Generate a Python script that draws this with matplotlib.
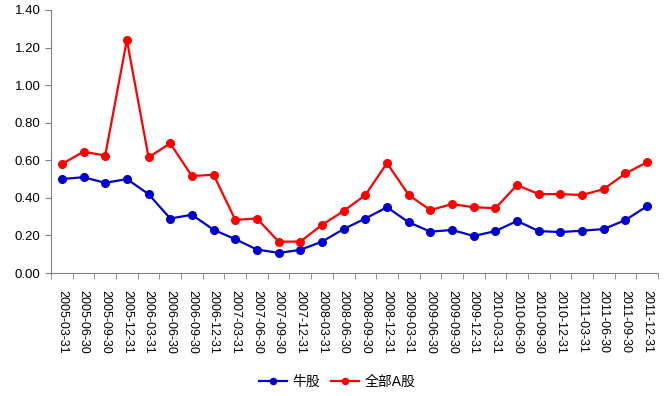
import numpy as np
import matplotlib
matplotlib.use("Agg")
from matplotlib import pyplot as plt
from matplotlib.ticker import MultipleLocator, FixedLocator

plt.rcParams['font.family'] = ['Liberation Sans', 'Noto Sans CJK SC', 'DejaVu Sans']

dates = ['2005-03-31', '2005-06-30', '2005-09-30', '2005-12-31',
         '2006-03-31', '2006-06-30', '2006-09-30', '2006-12-31',
         '2007-03-31', '2007-06-30', '2007-09-30', '2007-12-31',
         '2008-03-31', '2008-06-30', '2008-09-30', '2008-12-31',
         '2009-03-31', '2009-06-30', '2009-09-30', '2009-12-31',
         '2010-03-31', '2010-06-30', '2010-09-30', '2010-12-31',
         '2011-03-31', '2011-06-30', '2011-09-30', '2011-12-31']
niu = [0.50, 0.51, 0.48, 0.50, 0.42, 0.29, 0.31, 0.23,
       0.18, 0.125, 0.107, 0.123, 0.167, 0.234, 0.29, 0.35,
       0.27, 0.22, 0.229, 0.197, 0.223, 0.277, 0.223, 0.218,
       0.225, 0.234, 0.282, 0.356]
all_a = [0.58, 0.646, 0.625, 1.24, 0.616, 0.69, 0.516, 0.523,
         0.283, 0.29, 0.167, 0.167, 0.256, 0.33, 0.415, 0.585,
         0.415, 0.335, 0.367, 0.35, 0.345, 0.468, 0.42, 0.42,
         0.415, 0.447, 0.53, 0.59]

fig = plt.figure(figsize=(6.66, 3.96), dpi=100)
ax = fig.add_axes([51/666, 1-273/396, 607/666, 263/396])

x = np.arange(len(dates))
ax.plot(x, niu, color='#0000cc', marker='o', markersize=5.5, linewidth=1.6, label='牛股')
ax.plot(x, all_a, color='#ff0000', marker='o', markersize=5.5, linewidth=1.6, label='全部A股')

ax.set_xlim(-0.5, len(dates) - 0.5)
ax.set_ylim(0, 1.40)
ax.yaxis.set_major_locator(MultipleLocator(0.2))
ax.yaxis.set_major_formatter(matplotlib.ticker.FormatStrFormatter('%.2f'))

ax.set_xticks(x)
ax.set_xticklabels(dates, rotation=270, fontsize=9)
ax.tick_params(axis='x', which='major', length=0, pad=12)
ax.xaxis.set_minor_locator(FixedLocator(np.arange(-0.5, len(dates), 1)))
ax.tick_params(axis='x', which='minor', length=4, color='#808080')
ax.tick_params(axis='y', labelsize=9.5, length=4, color='#808080')

for s in ['top', 'right']:
    ax.spines[s].set_visible(False)
for s in ['left', 'bottom']:
    ax.spines[s].set_color('#808080')

fig.legend(loc='center', bbox_to_anchor=(337/666, 1 - 382/396), ncol=2, frameon=False,
           fontsize=10, handlelength=2.0, columnspacing=0.8, handletextpad=0.4,
           borderpad=0.1, markerscale=0.8)

fig.savefig('out.png', dpi=100)
